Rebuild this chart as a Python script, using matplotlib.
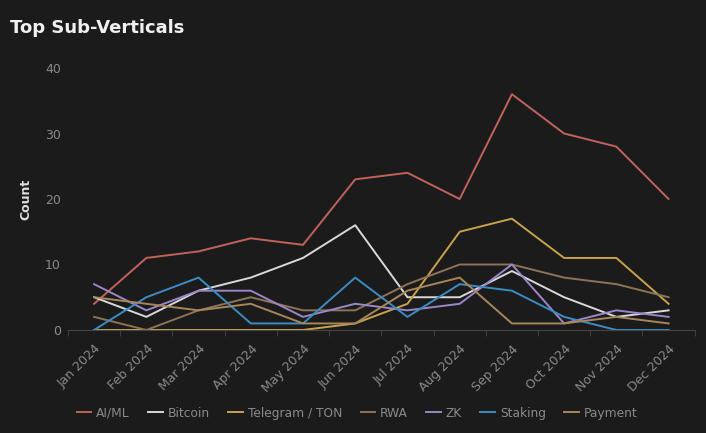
import numpy as np
import matplotlib
matplotlib.use("Agg")
import matplotlib.pyplot as plt
from matplotlib.ticker import FixedLocator

# data
months = ["Jan 2024", "Feb 2024", "Mar 2024", "Apr 2024", "May 2024", "Jun 2024",
          "Jul 2024", "Aug 2024", "Sep 2024", "Oct 2024", "Nov 2024", "Dec 2024"]
ai_ml = [4, 11, 12, 14, 13, 23, 24, 20, 36, 30, 28, 20]
bitcoin = [5, 2, 6, 8, 11, 16, 5, 5, 9, 5, 2, 3]
telegram = [0, 0, 0, 0, 0, 1, 4, 15, 17, 11, 11, 4]
rwa = [2, 0, 3, 5, 3, 3, 7, 10, 10, 8, 7, 5]
zk = [7, 3, 6, 6, 2, 4, 3, 4, 10, 1, 3, 2]
staking = [0, 5, 8, 1, 1, 8, 2, 7, 6, 2, 0, 0]
payment = [5, 4, 3, 4, 1, 1, 6, 8, 1, 1, 2, 1]

series = [
    ("AI/ML", ai_ml, "#c2625b"),
    ("Bitcoin", bitcoin, "#d9d9d9"),
    ("Telegram / TON", telegram, "#c9a24c"),
    ("RWA", rwa, "#8e7356"),
    ("ZK", zk, "#9a86c8"),
    ("Staking", staking, "#3b8cc4"),
    ("Payment", payment, "#a8865c"),
]

bg = "#1b1b1b"
fig = plt.figure(figsize=(7.06, 4.33), dpi=100, facecolor=bg)
ax = fig.add_axes([0.0963, 0.2379, 0.8877, 0.605], facecolor=bg)

x = np.arange(len(months))
for name, vals, col in series:
    ax.plot(x, vals, color=col, lw=1.4, label=name, clip_on=False)

ax.set_xlim(-0.5, len(months) - 0.5)
ax.set_ylim(0, 40)
ax.set_yticks([0, 10, 20, 30, 40])
ax.set_xticks(x)
ax.set_xticklabels(months, rotation=45, ha="right", rotation_mode="anchor")
ax.xaxis.set_minor_locator(FixedLocator(np.arange(-0.5, len(months), 1.0)))

for s in ["top", "right", "left"]:
    ax.spines[s].set_visible(False)
ax.spines["bottom"].set_color("#444444")
ax.tick_params(axis="y", length=0, pad=5, colors="#8a8a8a", labelsize=9)
ax.tick_params(axis="x", which="major", length=0, pad=9, colors="#8a8a8a", labelsize=9)
ax.tick_params(axis="x", which="minor", length=4, color="#444444")

ax.set_ylabel("Count", color="#e0e0e0", fontsize=9, fontweight="bold", labelpad=9)

fig.text(0.014, 0.935, "Top Sub-Verticals", color="#f0f0f0", fontsize=13,
         fontweight="bold", va="center", ha="left")

leg = fig.legend(loc="center", bbox_to_anchor=(0.506, 0.046), ncol=7, frameon=False,
                 handlelength=1.2, columnspacing=1.5, handletextpad=0.4, fontsize=8.8)
for t in leg.get_texts():
    t.set_color("#8a8a8a")

fig.savefig("out.png", dpi=100, facecolor=bg)
